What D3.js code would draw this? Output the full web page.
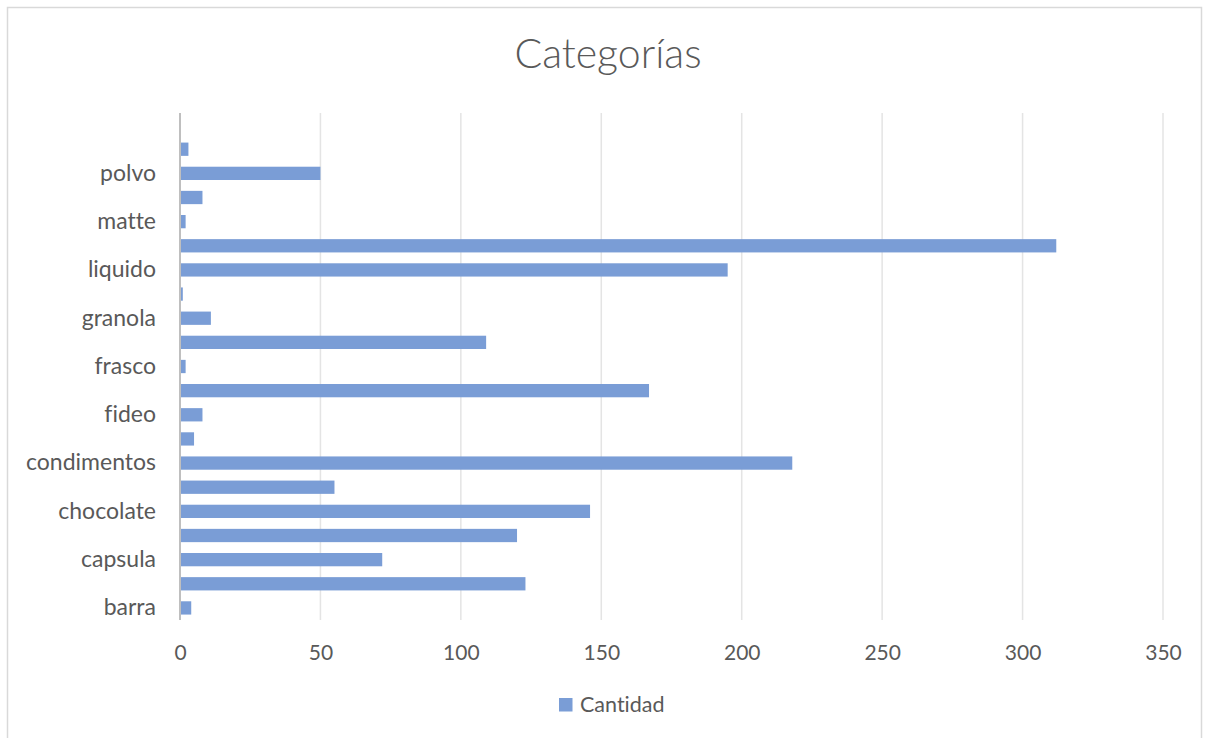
<!DOCTYPE html>
<html>
<head>
<meta charset="utf-8">
<script src="https://cdn.jsdelivr.net/npm/d3@7"></script>
<style>
  html, body { margin: 0; padding: 0; background: #ffffff; }
  svg { display: block; }
  text { font-family: Lato, "Open Sans", sans-serif; fill: #595959; font-variant-ligatures: none; }
</style>
</head>
<body>
<svg id="chart" width="1209" height="738"></svg>
<script>
// Categories listed bottom to top (alphabetical, last one is the blank entry)
const categories = [
  "barra", "bebida", "capsula", "cereal", "chocolate", "cocoa",
  "condimentos", "endulzante", "fideo", "filtro", "frasco", "galleta",
  "granola", "infusion", "liquido", "mani", "matte", "mermelada",
  "polvo", "te", ""
];
const cantidad = [
  4, 123, 72, 120, 146, 55,
  218, 5, 8, 167, 2, 109,
  11, 1, 195, 312, 2, 8,
  50, 3, 0
];
const xTicks = [0, 50, 100, 150, 200, 250, 300, 350];
const seriesName = "Cantidad";
const chartTitle = "Categorías";

const data = categories.map((c, i) => ({ cat: c, value: cantidad[i] }));

const svg = d3.select("#chart");
const barColor = "#7A9DD6";

// outer chart frame
svg.append("rect")
  .attr("x", 7.5).attr("y", 7.5)
  .attr("width", 1194).attr("height", 740)
  .attr("fill", "#ffffff")
  .attr("stroke", "#d9d9d9")
  .attr("stroke-width", 1.5);

const plot = { left: 180, right: 1163, top: 113, bottom: 620 };

const x = d3.scaleLinear().domain([0, 350]).range([plot.left, plot.right]);
const y = d3.scaleBand()
  .domain(categories.map((c, i) => i))
  .range([plot.bottom, plot.top])
  .paddingInner(0.45)
  .paddingOuter(0.225);

// title
svg.append("text")
  .attr("x", 608).attr("y", 68)
  .attr("text-anchor", "middle")
  .style("font-size", "41px")
  .style("font-weight", 300)
  .text(chartTitle);

// vertical gridlines
svg.append("g")
  .selectAll("line")
  .data(xTicks.filter(t => t > 0))
  .join("line")
  .attr("x1", d => x(d)).attr("x2", d => x(d))
  .attr("y1", plot.top).attr("y2", plot.bottom)
  .attr("stroke", "#e4e4e4")
  .attr("stroke-width", 1.5);

// bars
svg.append("g")
  .selectAll("rect")
  .data(data.filter(d => d.value > 0))
  .join("rect")
  .attr("x", x(0))
  .attr("y", d => y(categories.indexOf(d.cat)))
  .attr("width", d => x(d.value) - x(0))
  .attr("height", y.bandwidth())
  .attr("fill", barColor);

// category axis (every other label shown)
const yAxis = d3.axisLeft(y)
  .tickSize(0)
  .tickPadding(24)
  .tickFormat(i => (i % 2 === 0 ? categories[i] : ""));
const gy = svg.append("g")
  .attr("transform", `translate(${plot.left},0)`)
  .call(yAxis);
gy.select(".domain").remove();
gy.selectAll("text")
  .style("font-size", "23px")
  .style("font-family", "Lato, 'Open Sans', sans-serif")
  .attr("fill", "#595959");

// zero baseline
svg.append("line")
  .attr("x1", x(0)).attr("x2", x(0))
  .attr("y1", plot.top).attr("y2", plot.bottom)
  .attr("stroke", "#bfbfbf")
  .attr("stroke-width", 2);

// value axis
const xAxis = d3.axisBottom(x)
  .tickValues(xTicks)
  .tickSize(0)
  .tickPadding(0)
  .tickFormat(d3.format("d"));
const gx = svg.append("g")
  .attr("transform", `translate(0,${plot.bottom})`)
  .call(xAxis);
gx.select(".domain").remove();
gx.selectAll("text")
  .attr("dy", null)
  .attr("y", 40)
  .style("font-size", "21px")
  .style("font-family", "Lato, 'Open Sans', sans-serif")
  .attr("fill", "#595959");

// legend
const legend = svg.append("g").attr("transform", "translate(559,698)");
legend.append("rect")
  .attr("width", 13.5).attr("height", 13.5)
  .attr("fill", barColor);
legend.append("text")
  .attr("x", 21).attr("y", 13.5)
  .style("font-size", "21.5px")
  .text(seriesName);
</script>
</body>
</html>
